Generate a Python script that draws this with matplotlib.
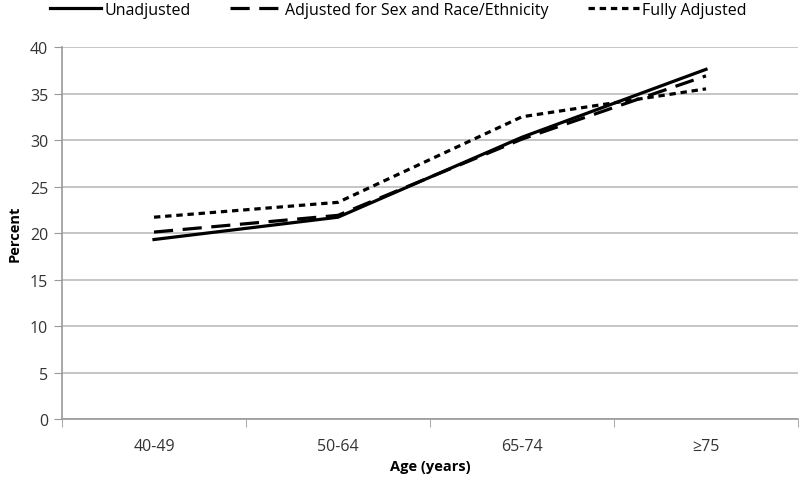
import matplotlib
matplotlib.use('Agg')
import matplotlib.pyplot as plt
import numpy as np

categories = ['40-49', '50-64', '65-74', '≥75']
unadjusted = [19.3, 21.7, 30.3, 37.6]
adjusted_sex_race = [20.1, 21.9, 30.1, 36.9]
fully_adjusted = [21.7, 23.3, 32.5, 35.5]

plt.rcParams['font.family'] = ['Open Sans', 'DejaVu Sans']

fig = plt.figure(figsize=(8, 4.85), dpi=100)
ax = fig.add_axes([0.0775, 0.134, 0.92, 0.767])

x = np.arange(len(categories))
ax.plot(x, unadjusted, color='black', linewidth=2.3, linestyle='-', label='Unadjusted')
ax.plot(x, adjusted_sex_race, color='black', linewidth=2.3, linestyle=(0, (6, 3)),
        label='Adjusted for Sex and Race/Ethnicity')
ax.plot(x, fully_adjusted, color='black', linewidth=2.3, linestyle=(0, (2, 1.5)),
        label='Fully Adjusted')

ax.set_xlim(-0.5, len(categories) - 0.5)
ax.set_ylim(0, 40)
ax.set_yticks(range(0, 41, 5))
ax.set_xticks(x)
ax.set_xticklabels(categories)
ax.set_xticks(np.arange(-0.5, len(categories), 1), minor=True)
ax.tick_params(axis='x', which='major', length=0, pad=14, labelsize=11.5, colors='#333333')
ax.tick_params(axis='x', which='minor', length=6, color='#999999')
ax.tick_params(axis='y', length=6, color='#999999', labelsize=11.5, labelcolor='#333333', pad=4)

ax.grid(axis='y', color='#bbbbbb', linewidth=1.2)
ax.set_axisbelow(True)
for side in ['top', 'right']:
    ax.spines[side].set_visible(False)
for side in ['left', 'bottom']:
    ax.spines[side].set_color('#999999')
    ax.spines[side].set_linewidth(1.2)

ax.set_xlabel('Age (years)', fontsize=10.5, fontweight='bold', labelpad=3)
ax.set_ylabel('Percent', fontsize=10.5, fontweight='bold', labelpad=6)

ax.legend(loc='center', bbox_to_anchor=(0.457, 1.1), ncol=3, frameon=False,
          fontsize=11.5, handlelength=3.2, handletextpad=0.2, columnspacing=2.5,
          borderaxespad=0, borderpad=0)

plt.savefig('out.png', dpi=100)
